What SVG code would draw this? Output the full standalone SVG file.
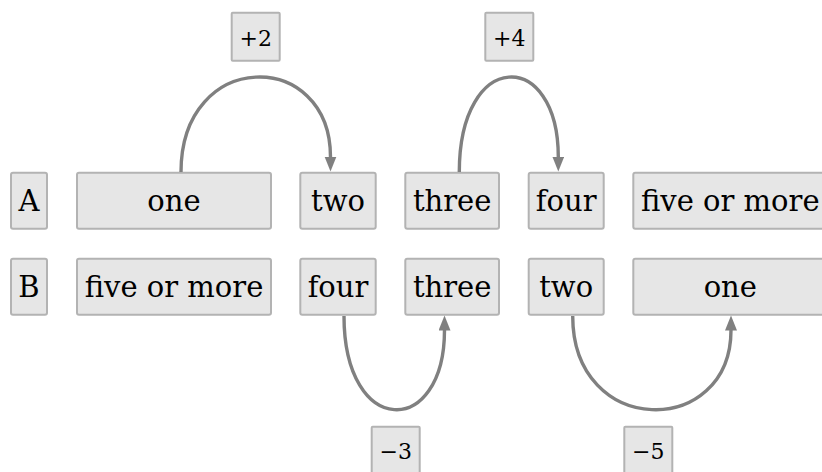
<svg xmlns="http://www.w3.org/2000/svg" width="822" height="472" viewBox="0 0 822 472">
<style>
.box{fill:#e6e6e6;stroke:#b3b3b3;stroke-width:2}
.t{font-family:"DejaVu Serif",serif;font-size:29px;fill:#000;text-anchor:middle}
.s{font-family:"DejaVu Serif",serif;font-size:22px;fill:#000;text-anchor:middle}
.arc{fill:none;stroke:#808080;stroke-width:3.4}
</style>
<defs>
<marker id="ah" markerUnits="userSpaceOnUse" markerWidth="16" markerHeight="13" refX="0.5" refY="6" orient="auto">
<path d="M0,0 L15,6 L0,12 z" fill="#808080"/>
</marker>
</defs>
<rect width="822" height="472" fill="#fff"/>
<g id="rowA">
<g id="labelA"><rect class="box" x="11" y="172.7" width="36" height="56" rx="2"/><text class="t" x="29" y="211">A</text></g>
<g id="A1"><rect class="box" x="77" y="172.7" width="194" height="56" rx="2"/><text class="t" x="174" y="211">one</text></g>
<g id="A2"><rect class="box" x="300.3" y="172.7" width="75.4" height="56" rx="2"/><text class="t" x="338" y="211">two</text></g>
<g id="A3"><rect class="box" x="405.3" y="172.7" width="93.7" height="56" rx="2"/><text class="t" x="452.2" y="211">three</text></g>
<g id="A4"><rect class="box" x="528.7" y="172.7" width="75" height="56" rx="2"/><text class="t" x="566.2" y="211">four</text></g>
<g id="A5"><rect class="box" x="633.3" y="172.7" width="194" height="56" rx="2"/><text class="t" x="730.3" y="211">five or more</text></g>
</g>
<g id="rowB">
<g id="labelB"><rect class="box" x="11" y="258.7" width="36" height="56" rx="2"/><text class="t" x="29" y="297">B</text></g>
<g id="B1"><rect class="box" x="77" y="258.7" width="194" height="56" rx="2"/><text class="t" x="174" y="297">five or more</text></g>
<g id="B2"><rect class="box" x="300.3" y="258.7" width="75.4" height="56" rx="2"/><text class="t" x="338" y="297">four</text></g>
<g id="B3"><rect class="box" x="405.3" y="258.7" width="93.7" height="56" rx="2"/><text class="t" x="452.2" y="297">three</text></g>
<g id="B4"><rect class="box" x="528.7" y="258.7" width="75" height="56" rx="2"/><text class="t" x="566.2" y="297">two</text></g>
<g id="B5"><rect class="box" x="633.3" y="258.7" width="194" height="56" rx="2"/><text class="t" x="730.3" y="297">one</text></g>
</g>
<g id="connectors">
<path class="arc" d="M181,172 C181,48 330.5,48 330.5,157" marker-end="url(#ah)"/>
<path class="arc" d="M459.3,172 C459.3,48 558.3,48 558.3,157" marker-end="url(#ah)"/>
<path class="arc" d="M344,316 C344,438.5 444.5,438.5 444.5,330" marker-end="url(#ah)"/>
<path class="arc" d="M572.7,316 C572.7,438.5 731,438.5 731,330" marker-end="url(#ah)"/>
</g>
<g id="lbl_p2"><rect class="box" x="231.7" y="12.7" width="48" height="48" rx="1"/><text class="s" x="255.7" y="46">+2</text></g>
<g id="lbl_p4"><rect class="box" x="485.3" y="12.7" width="48" height="48" rx="1"/><text class="s" x="509.3" y="46">+4</text></g>
<g id="lbl_m3"><rect class="box" x="371.7" y="426.7" width="48" height="48" rx="1"/><text class="s" x="395.7" y="459">−3</text></g>
<g id="lbl_m5"><rect class="box" x="624.3" y="426.7" width="48" height="48" rx="1"/><text class="s" x="648.3" y="459">−5</text></g>
</svg>
